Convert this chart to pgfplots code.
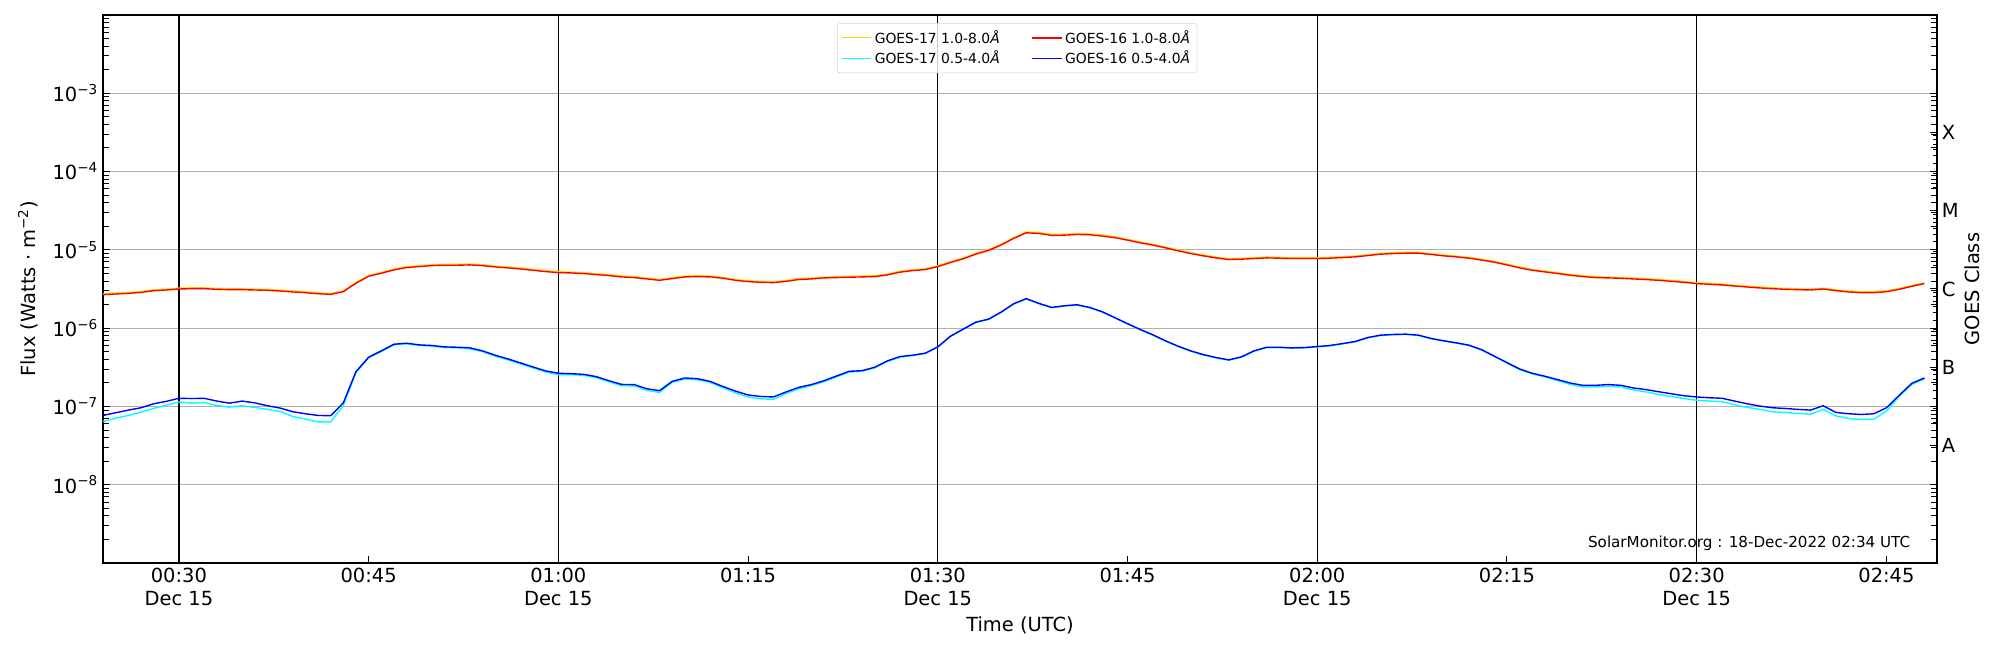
\documentclass[border=0pt]{standalone}
\usepackage{fontspec}
\setmainfont{DejaVu Sans}
\usepackage{pgfplots}
\usepackage{pgfplotstable}
\pgfplotsset{compat=1.18}
\definecolor{goldc}{HTML}{FFD700}
\definecolor{gridc}{HTML}{B0B0B0}
\definecolor{cyanc}{HTML}{00FFFF}
\definecolor{bluec}{HTML}{0000FF}
\definecolor{redc}{HTML}{FF0000}
\pgfplotstableread{
t g17l g17s g16l g16s
24 2.75e-6 6.43e-8 2.67e-6 7.67e-8
25 2.81e-6 7.08e-8 2.73e-6 8.30e-8
26 2.86e-6 7.67e-8 2.78e-6 8.97e-8
27 2.95e-6 8.45e-8 2.86e-6 9.61e-8
28 3.10e-6 9.42e-8 3.01e-6 1.08e-7
29 3.16e-6 1.04e-7 3.07e-6 1.16e-7
30 3.25e-6 1.14e-7 3.16e-6 1.27e-7
31 3.29e-6 1.10e-7 3.19e-6 1.26e-7
32 3.29e-6 1.12e-7 3.19e-6 1.27e-7
33 3.22e-6 1.03e-7 3.13e-6 1.17e-7
34 3.19e-6 9.80e-8 3.10e-6 1.10e-7
35 3.19e-6 1.02e-7 3.10e-6 1.17e-7
36 3.16e-6 9.70e-8 3.07e-6 1.11e-7
37 3.13e-6 9.16e-8 3.04e-6 1.02e-7
38 3.07e-6 8.63e-8 2.98e-6 9.53e-8
39 2.99e-6 7.45e-8 2.90e-6 8.55e-8
40 2.93e-6 6.89e-8 2.84e-6 8.06e-8
41 2.83e-6 6.36e-8 2.75e-6 7.67e-8
42 2.78e-6 6.36e-8 2.70e-6 7.60e-8
43 3.01e-6 1.03e-7 2.92e-6 1.11e-7
44 3.85e-6 2.70e-7 3.74e-6 2.78e-7
45 4.74e-6 4.17e-7 4.60e-6 4.25e-7
46 5.17e-6 5.02e-7 5.02e-6 5.12e-7
47 5.71e-6 6.11e-7 5.54e-6 6.23e-7
48 6.12e-6 6.29e-7 5.94e-6 6.42e-7
49 6.29e-6 6.00e-7 6.11e-6 6.11e-7
50 6.48e-6 5.88e-7 6.29e-6 6.00e-7
51 6.55e-6 5.65e-7 6.36e-6 5.76e-7
52 6.55e-6 5.60e-7 6.36e-6 5.70e-7
53 6.61e-6 5.43e-7 6.42e-6 5.60e-7
54 6.48e-6 5.02e-7 6.29e-6 5.12e-7
55 6.23e-6 4.38e-7 6.05e-6 4.51e-7
56 6.06e-6 3.93e-7 5.88e-6 4.05e-7
57 5.88e-6 3.49e-7 5.71e-6 3.60e-7
58 5.64e-6 3.10e-7 5.48e-6 3.19e-7
59 5.43e-6 2.75e-7 5.27e-6 2.84e-7
60 5.27e-6 2.55e-7 5.12e-6 2.65e-7
61 5.22e-6 2.54e-7 5.07e-6 2.62e-7
62 5.13e-6 2.50e-7 4.98e-6 2.57e-7
63 4.97e-6 2.33e-7 4.83e-6 2.40e-7
64 4.83e-6 2.07e-7 4.69e-6 2.13e-7
65 4.65e-6 1.84e-7 4.51e-6 1.91e-7
66 4.55e-6 1.83e-7 4.42e-6 1.90e-7
67 4.38e-6 1.60e-7 4.25e-6 1.68e-7
68 4.20e-6 1.51e-7 4.08e-6 1.59e-7
69 4.42e-6 2.03e-7 4.29e-6 2.09e-7
70 4.65e-6 2.24e-7 4.51e-6 2.31e-7
71 4.69e-6 2.19e-7 4.55e-6 2.26e-7
72 4.65e-6 2.03e-7 4.51e-6 2.09e-7
73 4.47e-6 1.73e-7 4.34e-6 1.80e-7
74 4.20e-6 1.49e-7 4.08e-6 1.57e-7
75 4.05e-6 1.32e-7 3.93e-6 1.40e-7
76 3.97e-6 1.25e-7 3.85e-6 1.34e-7
77 3.92e-6 1.23e-7 3.81e-6 1.32e-7
78 4.08e-6 1.46e-7 3.96e-6 1.53e-7
79 4.30e-6 1.68e-7 4.17e-6 1.75e-7
80 4.38e-6 1.84e-7 4.25e-6 1.90e-7
81 4.51e-6 2.07e-7 4.38e-6 2.13e-7
82 4.55e-6 2.38e-7 4.42e-6 2.45e-7
83 4.60e-6 2.75e-7 4.47e-6 2.81e-7
84 4.65e-6 2.80e-7 4.51e-6 2.86e-7
85 4.69e-6 3.10e-7 4.55e-6 3.16e-7
86 4.92e-6 3.73e-7 4.78e-6 3.81e-7
87 5.34e-6 4.24e-7 5.18e-6 4.33e-7
88 5.59e-6 4.47e-7 5.43e-6 4.51e-7
89 5.77e-6 4.73e-7 5.60e-6 4.78e-7
90 6.29e-6 5.70e-7 6.11e-6 5.76e-7
91 7.09e-6 7.81e-7 6.88e-6 7.89e-7
92 7.90e-6 9.60e-7 7.67e-6 9.70e-7
93 9.06e-6 1.18e-6 8.80e-6 1.19e-6
94 1.01e-5 1.29e-6 9.80e-6 1.30e-6
95 1.18e-5 1.58e-6 1.15e-5 1.60e-6
96 1.44e-5 2.03e-6 1.40e-5 2.05e-6
97 1.70e-5 2.36e-6 1.65e-5 2.38e-6
98 1.67e-5 2.05e-6 1.62e-5 2.07e-6
99 1.58e-5 1.82e-6 1.53e-5 1.84e-6
100 1.59e-5 1.91e-6 1.54e-5 1.93e-6
101 1.62e-5 1.97e-6 1.57e-5 1.99e-6
102 1.61e-5 1.82e-6 1.56e-5 1.84e-6
103 1.55e-5 1.60e-6 1.50e-5 1.62e-6
104 1.47e-5 1.35e-6 1.43e-5 1.36e-6
105 1.37e-5 1.13e-6 1.33e-5 1.14e-6
106 1.27e-5 9.52e-7 1.23e-5 9.62e-7
107 1.18e-5 8.14e-7 1.15e-5 8.22e-7
108 1.09e-5 6.82e-7 1.06e-5 6.89e-7
109 1.00e-5 5.82e-7 9.71e-6 5.88e-7
110 9.24e-6 5.07e-7 8.97e-6 5.12e-7
111 8.63e-6 4.54e-7 8.38e-6 4.59e-7
112 8.13e-6 4.17e-7 7.89e-6 4.21e-7
113 7.75e-6 3.89e-7 7.52e-6 3.93e-7
114 7.82e-6 4.25e-7 7.59e-6 4.29e-7
115 7.97e-6 5.07e-7 7.74e-6 5.12e-7
116 8.13e-6 5.64e-7 7.89e-6 5.70e-7
117 8.05e-6 5.64e-7 7.82e-6 5.70e-7
118 7.97e-6 5.54e-7 7.74e-6 5.60e-7
119 7.97e-6 5.59e-7 7.74e-6 5.65e-7
120 7.97e-6 5.76e-7 7.74e-6 5.82e-7
121 8.05e-6 5.94e-7 7.82e-6 6.00e-7
122 8.21e-6 6.29e-7 7.97e-6 6.35e-7
123 8.37e-6 6.68e-7 8.13e-6 6.75e-7
124 8.70e-6 7.51e-7 8.45e-6 7.59e-7
125 9.06e-6 8.05e-7 8.80e-6 8.13e-7
126 9.24e-6 8.22e-7 8.97e-6 8.30e-7
127 9.33e-6 8.30e-7 9.06e-6 8.38e-7
128 9.33e-6 8.05e-7 9.06e-6 8.13e-7
129 8.98e-6 7.31e-7 8.72e-6 7.38e-7
130 8.63e-6 6.82e-7 8.38e-6 6.89e-7
131 8.37e-6 6.43e-7 8.13e-6 6.49e-7
132 8.05e-6 5.99e-7 7.82e-6 6.05e-7
133 7.62e-6 5.25e-7 7.40e-6 5.30e-7
134 7.16e-6 4.34e-7 6.95e-6 4.38e-7
135 6.61e-6 3.59e-7 6.42e-6 3.63e-7
136 6.06e-6 2.95e-7 5.88e-6 3.01e-7
137 5.64e-6 2.60e-7 5.48e-6 2.65e-7
138 5.38e-6 2.38e-7 5.22e-6 2.43e-7
139 5.13e-6 2.14e-7 4.98e-6 2.20e-7
140 4.88e-6 1.91e-7 4.74e-6 1.99e-7
141 4.69e-6 1.77e-7 4.55e-6 1.86e-7
142 4.55e-6 1.77e-7 4.42e-6 1.86e-7
143 4.51e-6 1.81e-7 4.38e-6 1.90e-7
144 4.46e-6 1.77e-7 4.33e-6 1.86e-7
145 4.38e-6 1.62e-7 4.25e-6 1.72e-7
146 4.30e-6 1.53e-7 4.17e-6 1.64e-7
147 4.20e-6 1.42e-7 4.08e-6 1.54e-7
148 4.08e-6 1.34e-7 3.96e-6 1.45e-7
149 3.97e-6 1.26e-7 3.85e-6 1.37e-7
150 3.81e-6 1.20e-7 3.70e-6 1.32e-7
151 3.74e-6 1.17e-7 3.63e-6 1.29e-7
152 3.67e-6 1.15e-7 3.56e-6 1.27e-7
153 3.55e-6 1.05e-7 3.45e-6 1.17e-7
154 3.45e-6 9.70e-8 3.35e-6 1.08e-7
155 3.36e-6 9.15e-8 3.26e-6 1.01e-7
156 3.29e-6 8.54e-8 3.19e-6 9.61e-8
157 3.22e-6 8.37e-8 3.13e-6 9.42e-8
158 3.19e-6 8.14e-8 3.10e-6 9.16e-8
159 3.16e-6 7.97e-8 3.07e-6 8.97e-8
160 3.25e-6 9.15e-8 3.16e-6 1.02e-7
161 3.10e-6 7.55e-8 3.01e-6 8.38e-8
162 2.99e-6 7.00e-8 2.90e-6 8.06e-8
163 2.93e-6 6.81e-8 2.84e-6 7.89e-8
164 2.93e-6 6.87e-8 2.84e-6 8.06e-8
165 3.01e-6 8.70e-8 2.92e-6 9.61e-8
166 3.22e-6 1.34e-7 3.13e-6 1.38e-7
167 3.52e-6 1.91e-7 3.42e-6 1.97e-7
168 3.81e-6 2.24e-7 3.70e-6 2.31e-7
}\goesdata
\newcommand{\tfont}{\fontsize{14}{16.5}\selectfont}
\begin{document}
\begin{tikzpicture}
\begin{axis}[
  at={(0,0)}, anchor=south west,
  scale only axis, width=1320.5pt, height=394.6pt,
  ymode=log, ymin=1e-9, ymax=1e-2,
  xmin=24, xmax=169,
  axis line style={line width=1pt},
  tick align=inside, xtick pos=left, ytick pos=both,
  major tick length=5pt, minor tick length=4pt,
  tick style={black, line width=0.7pt},
  xtick={30,45,60,75,90,105,120,135,150,165},
  xticklabels={{00:30\\Dec 15},00:45,{01:00\\Dec 15},01:15,{01:30\\Dec 15},01:45,{02:00\\Dec 15},02:15,{02:30\\Dec 15},02:45},
  xticklabel style={align=center, anchor=north, font=\tfont},
  ytick={1e-8,1e-7,1e-6,1e-5,1e-4,1e-3},
  yticklabels={10\textsuperscript{−8},10\textsuperscript{−7},10\textsuperscript{−6},10\textsuperscript{−5},10\textsuperscript{−4},10\textsuperscript{−3}},
  yticklabel style={font=\tfont},
  minor ytick={2e-9,3e-9,4e-9,5e-9,6e-9,7e-9,8e-9,9e-9,2e-8,3e-8,4e-8,5e-8,6e-8,7e-8,8e-8,9e-8,2e-7,3e-7,4e-7,5e-7,6e-7,7e-7,8e-7,9e-7,2e-6,3e-6,4e-6,5e-6,6e-6,7e-6,8e-6,9e-6,2e-5,3e-5,4e-5,5e-5,6e-5,7e-5,8e-5,9e-5,2e-4,3e-4,4e-4,5e-4,6e-4,7e-4,8e-4,9e-4,2e-3,3e-3,4e-3,5e-3,6e-3,7e-3,8e-3,9e-3},
  ymajorgrids, major grid style={color=gridc, line width=0.8pt},
  extra x ticks={30,60,90,120,150}, extra x tick labels={},
  extra x tick style={grid=major, major grid style={black, line width=1pt}},
  xlabel={Time (UTC)},
  ylabel={Flux (Watts · m\textsuperscript{−2})},
  label style={font=\tfont},
  xlabel style={at={(axis description cs:0.5,-0.113)}, anchor=center},
  ylabel style={at={(axis description cs:-0.0409,0.5)}, anchor=center},
  legend image code/.code={\draw[#1] (0pt,0pt) -- (21pt,0pt);},
  legend columns=2,
  legend style={at={(axis description cs:0.4002,0.985)}, anchor=north west,
    font=\fontsize{10}{12}\selectfont, draw=gray!35, rounded corners=2pt,
    fill=white, fill opacity=0.8, text opacity=1,
    inner xsep=3pt, inner ysep=3pt,
    /tikz/every even column/.append style={column sep=21pt}},
]
\addplot[goldc, line width=0.8pt] table[x=t, y=g17l] {\goesdata};
\addlegendentry{GOES-17 1.0-8.0\textit{Å}}
\addplot[redc, line width=1pt] table[x=t, y=g16l] {\goesdata};
\addlegendentry{GOES-16 1.0-8.0\textit{Å}}
\addplot[cyanc, line width=1pt] table[x=t, y=g17s] {\goesdata};
\addlegendentry{GOES-17 0.5-4.0\textit{Å}}
\addplot[bluec, line width=1pt] table[x=t, y=g16s] {\goesdata};
\addlegendentry{GOES-16 0.5-4.0\textit{Å}}
\node[anchor=east, font=\fontsize{10.9}{13}\selectfont] at (rel axis cs:0.988,0.036) {SolarMonitor.org : 18-Dec-2022 02:34 UTC};
\end{axis}
\begin{axis}[
  at={(0,0)}, anchor=south west,
  scale only axis, width=1320.5pt, height=394.6pt,
  ymode=log, ymin=1e-9, ymax=1e-2,
  xmin=24, xmax=169,
  axis x line=none, axis y line*=right,
  axis line style={line width=1pt},
  tick align=inside, major tick length=5pt,
  tick style={black, line width=0.7pt},
  ytick={3.1623e-8,3.1623e-7,3.1623e-6,3.1623e-5,3.1623e-4},
  yticklabels={A,B,C,M,X},
  minor ytick={},
  yticklabel style={font=\tfont},
  ylabel={GOES Class},
  ylabel style={font=\tfont, at={(axis description cs:1.0191,0.5)}, anchor=center},
]
\end{axis}
\pgfresetboundingbox
\useasboundingbox (-74.16pt,-62.64pt) rectangle (1365.84pt,405.36pt);
\end{tikzpicture}
\end{document}
